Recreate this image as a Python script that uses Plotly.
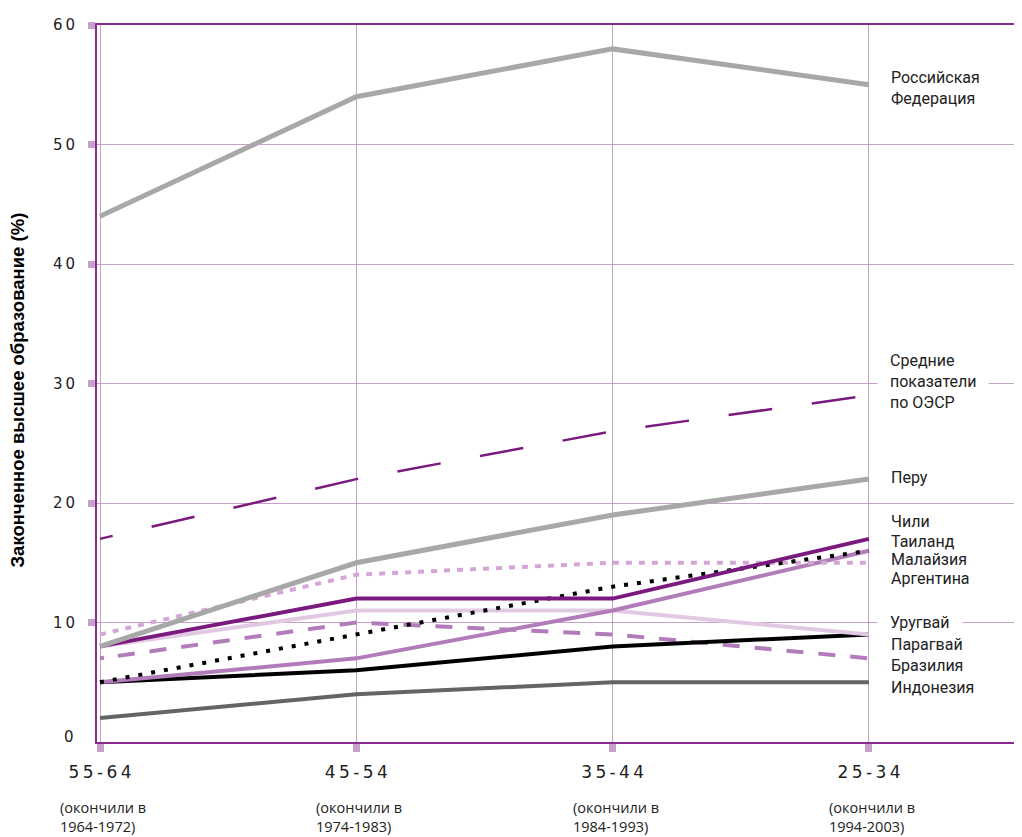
import plotly.graph_objects as go

age_groups = ["55-64", "45-54", "35-44", "25-34"]
grad_years = ["(окончили в<br>1964-1972)", "(окончили в<br>1974-1983)",
              "(окончили в<br>1984-1993)", "(окончили в<br>1994-2003)"]

russia = [44, 54, 58, 55]
oecd = [17, 22, 26, 29]
peru = [8, 15, 19, 22]
chile = [8, 12, 12, 17]
thailand = [5, 9, 13, 16]
malaysia = [9, 14, 15, 15]
argentina = [5, 7, 11, 16]
uruguay = [8, 11, 11, 9]
paraguay = [5, 6, 8, 9]
brazil = [7, 10, 9, 7]
indonesia = [2, 4, 5, 5]

y_ticks = [0, 10, 20, 30, 40, 50, 60]

labels = [
    ("Российская<br>Федерация", 54.7, False),
    ("Средние<br>показатели<br>по ОЭСР", 30.15, True),
    ("Перу", 22.15, False),
    ("Чили", 18.45, False),
    ("Таиланд", 16.75, False),
    ("Малайзия", 15.25, False),
    ("Аргентина", 13.65, False),
    ("Уругвай", 10.0, True),
    ("Парагвай", 8.2, False),
    ("Бразилия", 6.4, False),
    ("Индонезия", 4.55, False),
]

DARK = "#7a1a7e"
MED = "#b27cba"
LIGHT = "#d4a6d5"
PALE = "#e2c9e3"
GRAY = "#a8a8a8"
DGRAY = "#646464"
GRID = "#c9a0cc"
AXIS = "#8a2b8e"

xs = list(range(len(age_groups)))

oecd_dash = "13px,40px" + ",44px,40px" * 14
brazil_dash = "4px,14px" + ",17px,15px" * 30

series = [
    ("Индонезия", indonesia, DGRAY, 4, "solid"),
    ("Бразилия", brazil, MED, 4, brazil_dash),
    ("Парагвай", paraguay, "#000000", 4, "solid"),
    ("Уругвай", uruguay, PALE, 4, "solid"),
    ("Аргентина", argentina, MED, 4, "solid"),
    ("Малайзия", malaysia, LIGHT, 4, "6px,7px"),
    ("Таиланд", thailand, "#000000", 4, "4px,9px"),
    ("Чили", chile, DARK, 4, "solid"),
    ("Перу", peru, GRAY, 5, "solid"),
    ("ОЭСР", oecd, DARK, 2.5, oecd_dash),
    ("Россия", russia, GRAY, 5, "solid"),
]

fig = go.Figure()
for name, vals, color, w, dash in series:
    fig.add_trace(go.Scatter(x=xs, y=vals, mode="lines", name=name,
                             line=dict(color=color, width=w, dash=dash),
                             hoverinfo="skip", showlegend=False))

# right-side labels (bg ones first so they don't hide others)
ordered = [l for l in labels if l[2]] + [l for l in labels if not l[2]]
for text, yv, bg in ordered:
    fig.add_annotation(
        x=3, y=yv, xref="x", yref="y", text=text, showarrow=False,
        xanchor="left", yanchor="middle", align="left",
        xshift=8 if bg else 20,
        bgcolor="white" if bg else None, borderpad=12 if bg else 1,
        font=dict(family="Roboto", size=16, color="#222222"),
    )

for i, t in enumerate(grad_years):
    fig.add_annotation(
        x=i, y=0, xref="x", yref="paper", text=t, showarrow=False,
        xanchor="center", yanchor="middle", align="left", yshift=-75, xshift=3,
        font=dict(family="Open Sans", size=14.5, color="#222222"),
    )

sp = "\u2009"
tick_font = dict(family="DejaVu Sans", size=15, color="#222222")

# zero label (reference shows no tick square at 0)
fig.add_annotation(
    x=0, y=y_ticks[0], xref="paper", yref="y", text=sp.join(list(str(y_ticks[0]))),
    showarrow=False, xanchor="right", yanchor="middle", xshift=-21, yshift=5,
    font=tick_font,
)

# y-axis title
fig.add_annotation(
    x=0, y=0.5, xref="paper", yref="paper", xanchor="center", yanchor="middle",
    text="Законченное высшее образование (%)", textangle=-90, showarrow=False,
    xshift=-80, yshift=-7,
    font=dict(family="Liberation Sans", size=18.5, color="#000000", weight="bold"),
)

fig.update_layout(
    width=1022, height=837,
    margin=dict(l=89, r=8, t=13, b=103),
    paper_bgcolor="white", plot_bgcolor="white",
    xaxis=dict(
        range=[-0.0117, 3.597], tickvals=xs,
        ticktext=[sp.join(list(a)) for a in age_groups],
        tickfont=dict(family="DejaVu Sans", size=17, color="#222222"),
        showgrid=True, gridcolor=GRID, gridwidth=1,
        showline=True, linecolor=AXIS, linewidth=2, mirror=True,
        ticks="outside", ticklen=8, tickwidth=7, tickcolor=GRID,
        ticklabelstandoff=6, zeroline=False,
    ),
    yaxis=dict(
        range=[0, 60], tickvals=y_ticks[1:],
        ticktext=[sp.join(list(str(v))) for v in y_ticks[1:]],
        tickfont=tick_font,
        showgrid=True, gridcolor=GRID, gridwidth=1,
        showline=True, linecolor=AXIS, linewidth=2,
        ticks="outside", ticklen=7, tickwidth=7, tickcolor=GRID,
        ticklabelstandoff=10, zeroline=False,
    ),
)

fig.write_html("out.html")
